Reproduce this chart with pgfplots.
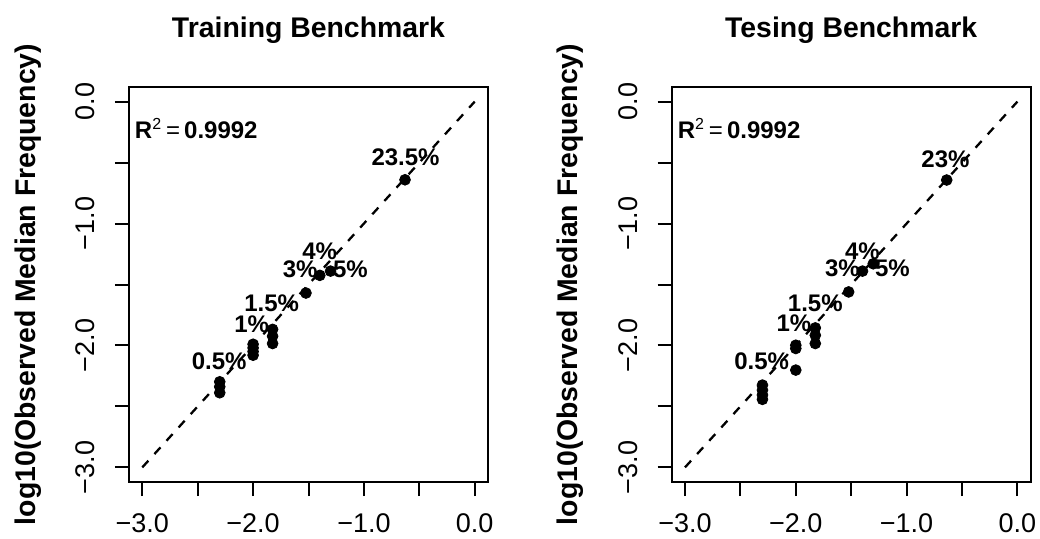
\documentclass[border=0pt]{standalone}
\usepackage{pgfplots}
\pgfplotsset{compat=1.18}
\usepackage{fontspec}
\setmainfont{Liberation Sans}
\pgfplotsset{
  rplot/.style={
    scale only axis, width=179.5pt, height=197.5pt, anchor=south west,
    xmin=-3.12, xmax=0.12, ymin=-3.12, ymax=0.12,
    xtick={-3,-2.5,-2,-1.5,-1,-0.5,0},
    ytick={-3,-2.5,-2,-1.5,-1,-0.5,0},
    xticklabels={−3.0,,−2.0,,−1.0,,0.0},
    yticklabels={−3.0,,−2.0,,−1.0,,0.0},
    tick align=outside, major tick length=7pt,
    xtick pos=left, ytick pos=left,
    every tick/.style={black, line width=1pt},
    axis line style={line width=1pt},
    ticklabel style={font=\fontsize{13.5}{14}\selectfont, inner sep=0pt},
    xticklabel style={anchor=base, yshift=-18.4pt},
    yticklabel style={xshift=-10.3pt, rotate=90, anchor=base},
    ylabel={log10(Observed Median Frequency)},
    ylabel style={at={(axis description cs:-0.2618,0.5)}, anchor=base, inner sep=0pt, font=\fontsize{14.2}{15}\selectfont\bfseries},
    title style={at={(axis description cs:0.5,1)}, anchor=base, yshift=19pt, inner sep=0pt, font=\fontsize{14.2}{15}\selectfont\bfseries},
    clip=false,
  },
  pts/.style={only marks, mark=*, mark size=2.7pt, black, mark options={fill=black, draw=black}},
  diag/.style={black, line width=1.15pt, dash pattern=on 4.5pt off 4.5pt},
}
\tikzset{
  lab/.style={anchor=base, font=\fontsize{12}{12}\selectfont\bfseries, inner sep=0pt},
  rsq/.style={anchor=base west, font=\fontsize{12}{12}\selectfont, inner sep=0pt},
}
\begin{document}
\begin{tikzpicture}
\useasboundingbox (0,0) rectangle (520pt,269pt);
% ---------------- Training
\begin{axis}[rplot, at={(64.5pt,28pt)}, title={Training Benchmark}]
\addplot[diag] coordinates {(-3,-3) (0,0)};
\addplot[pts] coordinates {
(-2.301,-2.298) (-2.301,-2.339) (-2.301,-2.388)
(-2,-1.99) (-2,-2.02) (-2,-2.05) (-2,-2.08)
(-1.824,-1.868) (-1.824,-1.924) (-1.824,-1.984)
(-1.523,-1.570)
(-1.398,-1.425)
(-1.301,-1.390)
(-0.629,-0.641)
};
\node[lab] at (axis cs:-0.624,-0.526) {23.5\%};
\node[lab] at (axis cs:-1.399,-1.297) {4\%};
\node[lab] at (axis cs:-1.575,-1.439) {3\%};
\node[lab] at (axis cs:-1.122,-1.439) {5\%};
\node[lab] at (axis cs:-1.832,-1.725) {1.5\%};
\node[lab] at (axis cs:-2.013,-1.897) {1\%};
\node[lab] at (axis cs:-2.306,-2.201) {0.5\%};
\node[rsq] at (axis cs:-3.07,-0.30) {\textbf{R}\textsuperscript{2}\,=\,\textbf{0.9992}};
\end{axis}
% ---------------- Testing
\begin{axis}[rplot, at={(335.85pt,28pt)}, title={Tesing Benchmark}]
\addplot[diag] coordinates {(-3,-3) (0,0)};
\addplot[pts] coordinates {
(-2.301,-2.325) (-2.301,-2.366) (-2.301,-2.406) (-2.301,-2.442)
(-2,-1.998) (-2,-2.025) (-2,-2.202)
(-1.824,-1.856) (-1.824,-1.916) (-1.824,-1.984)
(-1.523,-1.561)
(-1.398,-1.390)
(-1.301,-1.330)
(-0.638,-0.643)
};
\node[lab] at (axis cs:-0.649,-0.540) {23\%};
\node[lab] at (axis cs:-1.399,-1.297) {4\%};
\node[lab] at (axis cs:-1.579,-1.435) {3\%};
\node[lab] at (axis cs:-1.128,-1.435) {5\%};
\node[lab] at (axis cs:-1.824,-1.725) {1.5\%};
\node[lab] at (axis cs:-2.017,-1.889) {1\%};
\node[lab] at (axis cs:-2.308,-2.201) {0.5\%};
\node[rsq] at (axis cs:-3.069,-0.30) {\textbf{R}\textsuperscript{2}\,=\,\textbf{0.9992}};
\end{axis}
\end{tikzpicture}
\end{document}
